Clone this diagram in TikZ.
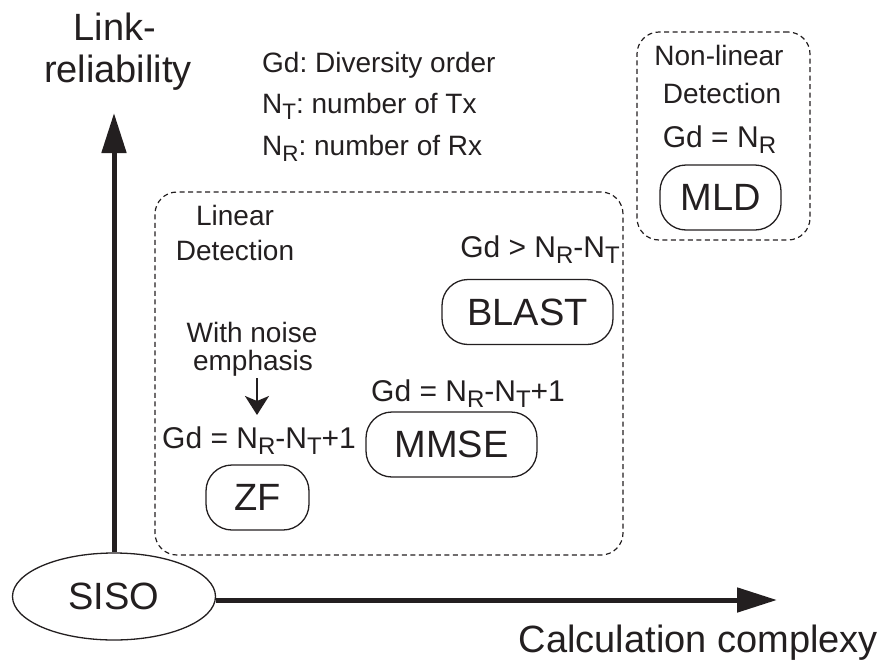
\documentclass[tikz,border=0pt]{standalone}
\usepackage{fontspec}
\setmainfont{Liberation Sans}
\usepackage{graphicx}
\usetikzlibrary{arrows.meta,shapes.geometric}
\definecolor{ink}{RGB}{35,31,32}
\frenchspacing
% lowered, reduced index letter (N_R, N_T)
\newcommand{\lowidx}[1]{\raisebox{-0.22em}{\scalebox{0.8}{#1}}}
\tikzset{
  big/.style={font=\fontsize{38}{44}\selectfont},
  formula/.style={font=\fontsize{30}{35}\selectfont},
  note/.style={font=\fontsize{28}{33}\selectfont},
  legend/.style={font=\fontsize{28}{33}\selectfont},
  lbl/.style={inner sep=0pt, anchor=base},
  algbox/.style={draw, line width=1.3pt, rounded corners=26pt, inner sep=0pt,
                 minimum height=65pt, big},
  region/.style={draw, line width=1.2pt, dash pattern=on 5pt off 3.5pt,
                 rounded corners=22pt, inner sep=0pt},
  axis/.style={line width=5pt, -{Triangle[length=40pt,width=24pt]}},
  hint/.style={line width=2.2pt, -{Stealth[length=19pt,width=24pt,inset=5pt]}},
}
\begin{document}
\begin{tikzpicture}[x=1pt, y=-1pt, color=ink, text=ink]
\useasboundingbox (0,0) rectangle (883,664);

% detection regions
\node[region, minimum width=468pt, minimum height=363pt] (linreg) at (389,373.5) {};
\node[region, minimum width=173pt, minimum height=208pt] (nonlinreg) at (723.5,136) {};

% axes
\node[draw, ellipse, line width=1.3pt, inner sep=0pt, minimum width=203pt,
      minimum height=87pt, big] (SISO) at (114,596.5) {SISO};
\coordinate (ytip) at (114,113);
\coordinate (xtip) at (777,600);
\draw[axis] (SISO.north) -- (ytip);
\draw[axis] (SISO.east |- xtip) -- (xtip);

\node[lbl, big] (ylab1) at (115,40) {Link-};
\node[lbl, big] (ylab2) at (118,82) {reliability};
\node[lbl, big, anchor=base east] (xlab) at (878,652) {Calculation complexy};

% legend
\node[lbl, legend, anchor=base west] (leg1) at (262,72) {Gd: Diversity order};
\node[lbl, legend, anchor=base west] (leg2) at (262,113) {N\lowidx{T}: number of Tx};
\node[lbl, legend, anchor=base west] (leg3) at (262,155) {N\lowidx{R}: number of Rx};

% linear detection
\node[lbl, note] (lin1) at (235,225) {Linear};
\node[lbl, note] (lin2) at (235,260) {Detection};

\node[algbox, minimum width=171pt] (BLAST) at (527.5,312) {BLAST};
\node[lbl, formula, anchor=base east] (gdBLAST) at (620,257) {Gd > N\lowidx{R}-N\lowidx{T}};

\node[algbox, minimum width=171pt] (MMSE) at (451.5,444.5) {MMSE};
\node[lbl, formula, anchor=base west] (gdMMSE) at (371,401) {Gd = N\lowidx{R}-N\lowidx{T}+1};

\node[algbox, minimum width=103pt] (ZF) at (257.5,497.5) {ZF};
\node[lbl, formula, anchor=base west] (gdZF) at (162,448) {Gd = N\lowidx{R}-N\lowidx{T}+1};

\node[lbl, note] (noise1) at (252,342) {With noise};
\node[lbl, note] (noise2) at (253,370) {emphasis};
\coordinate (hintA) at (257,378);
\coordinate (hintB) at (257,415);
\draw[hint] (hintA) -- (hintB);

% non-linear detection
\node[lbl, note] (nl1) at (719,65) {Non-linear};
\node[lbl, note] (nl2) at (722,103) {Detection};
\node[lbl, formula] (gdMLD) at (719.5,147) {Gd = N\lowidx{R}};
\node[algbox, minimum width=121pt] (MLD) at (720.5,197.5) {MLD};
\end{tikzpicture}
\end{document}
